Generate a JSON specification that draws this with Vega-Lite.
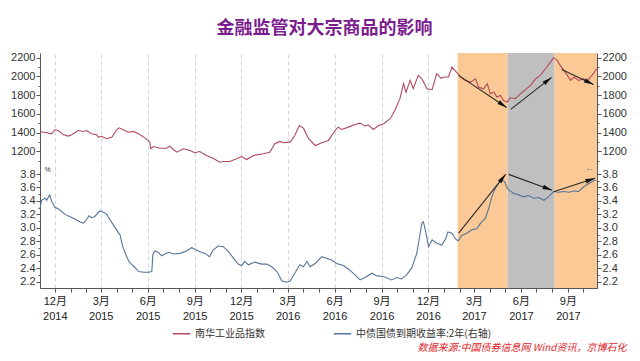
{
  "$schema": "https://vega.github.io/schema/vega-lite/v6.json",
  "padding": {"left": 10, "top": 19, "right": 5, "bottom": 2},
  "background": "white",
  "spacing": 0,
  "bounds": "flush",
  "config": {
    "view": {"stroke": null},
    "font": "Liberation Sans, Noto Sans CJK SC",
    "axis": {"labelFontSize": 11, "labelColor": "#333333", "domainColor": "#555555", "tickColor": "#555555", "gridColor": "#d6d6d6", "gridDash": [4, 3], "titleFontSize": 8, "titleFontWeight": "normal"}
  },
  "title": {"text": "数据来源:中国债券信息网  Wind资讯，京博石化", "orient": "bottom", "anchor": "end", "fontSize": 10, "fontStyle": "italic", "fontWeight": "normal", "color": "#e0262a", "offset": 4, "font": "Noto Sans CJK SC"},
  "resolve": {"scale": {"color": "shared"}, "legend": {"color": "shared"}},
  "datasets": {
    "bands": [
      {"start": "2017-01-28", "end": "2017-05-06", "kind": "orange"},
      {"start": "2017-05-06", "end": "2017-08-06", "kind": "gray"},
      {"start": "2017-08-06", "end": "2017-10-28", "kind": "orange"}
    ],
    "nh": [
      {"date": "2014-11-02", "value": 1412}, {"date": "2014-11-15", "value": 1398}, {"date": "2014-11-25", "value": 1387},
      {"date": "2014-12-01", "value": 1430}, {"date": "2014-12-08", "value": 1422}, {"date": "2014-12-18", "value": 1376},
      {"date": "2014-12-28", "value": 1362}, {"date": "2015-01-03", "value": 1376}, {"date": "2015-01-16", "value": 1422},
      {"date": "2015-01-26", "value": 1412}, {"date": "2015-02-01", "value": 1422}, {"date": "2015-02-11", "value": 1387},
      {"date": "2015-02-21", "value": 1376}, {"date": "2015-02-24", "value": 1351}, {"date": "2015-03-03", "value": 1358},
      {"date": "2015-03-13", "value": 1334}, {"date": "2015-03-23", "value": 1351}, {"date": "2015-04-01", "value": 1430},
      {"date": "2015-04-06", "value": 1451}, {"date": "2015-04-14", "value": 1430}, {"date": "2015-04-24", "value": 1404},
      {"date": "2015-05-04", "value": 1412}, {"date": "2015-05-14", "value": 1387}, {"date": "2015-05-24", "value": 1351},
      {"date": "2015-06-02", "value": 1316}, {"date": "2015-06-05", "value": 1295}, {"date": "2015-06-07", "value": 1227},
      {"date": "2015-06-12", "value": 1251}, {"date": "2015-06-25", "value": 1233}, {"date": "2015-07-08", "value": 1233},
      {"date": "2015-07-14", "value": 1255}, {"date": "2015-07-21", "value": 1219}, {"date": "2015-07-28", "value": 1190},
      {"date": "2015-08-10", "value": 1227}, {"date": "2015-08-23", "value": 1209}, {"date": "2015-09-01", "value": 1184},
      {"date": "2015-09-11", "value": 1198}, {"date": "2015-09-24", "value": 1155}, {"date": "2015-10-07", "value": 1126},
      {"date": "2015-10-20", "value": 1083}, {"date": "2015-10-27", "value": 1091}, {"date": "2015-11-09", "value": 1091},
      {"date": "2015-11-22", "value": 1120}, {"date": "2015-12-02", "value": 1144}, {"date": "2015-12-12", "value": 1112},
      {"date": "2015-12-25", "value": 1155}, {"date": "2016-01-13", "value": 1173}, {"date": "2016-01-26", "value": 1190},
      {"date": "2016-02-05", "value": 1280}, {"date": "2016-02-15", "value": 1305}, {"date": "2016-02-22", "value": 1291},
      {"date": "2016-03-06", "value": 1298}, {"date": "2016-03-15", "value": 1369}, {"date": "2016-03-24", "value": 1476},
      {"date": "2016-04-01", "value": 1447}, {"date": "2016-04-11", "value": 1334}, {"date": "2016-04-24", "value": 1262},
      {"date": "2016-05-07", "value": 1291}, {"date": "2016-05-20", "value": 1316}, {"date": "2016-06-02", "value": 1422},
      {"date": "2016-06-08", "value": 1458}, {"date": "2016-06-15", "value": 1433}, {"date": "2016-06-28", "value": 1458},
      {"date": "2016-07-11", "value": 1487}, {"date": "2016-07-21", "value": 1501}, {"date": "2016-07-31", "value": 1469},
      {"date": "2016-08-06", "value": 1483}, {"date": "2016-08-16", "value": 1433}, {"date": "2016-08-26", "value": 1476},
      {"date": "2016-09-05", "value": 1494}, {"date": "2016-09-18", "value": 1548}, {"date": "2016-09-27", "value": 1636},
      {"date": "2016-10-07", "value": 1762}, {"date": "2016-10-14", "value": 1922}, {"date": "2016-10-19", "value": 1832},
      {"date": "2016-10-27", "value": 1957}, {"date": "2016-11-02", "value": 1868}, {"date": "2016-11-12", "value": 2011},
      {"date": "2016-11-19", "value": 1975}, {"date": "2016-11-29", "value": 1868}, {"date": "2016-12-09", "value": 1858},
      {"date": "2016-12-18", "value": 2029}, {"date": "2016-12-26", "value": 1982}, {"date": "2017-01-03", "value": 1993},
      {"date": "2017-01-10", "value": 1993}, {"date": "2017-01-17", "value": 2100}, {"date": "2017-01-24", "value": 2057},
      {"date": "2017-02-03", "value": 1993}, {"date": "2017-02-12", "value": 1957}, {"date": "2017-02-22", "value": 1939},
      {"date": "2017-03-04", "value": 1975}, {"date": "2017-03-10", "value": 1886}, {"date": "2017-03-20", "value": 1868},
      {"date": "2017-03-27", "value": 1922}, {"date": "2017-04-02", "value": 1815}, {"date": "2017-04-09", "value": 1832},
      {"date": "2017-04-15", "value": 1779}, {"date": "2017-04-22", "value": 1797}, {"date": "2017-04-28", "value": 1743},
      {"date": "2017-05-05", "value": 1725}, {"date": "2017-05-11", "value": 1772}, {"date": "2017-05-21", "value": 1762},
      {"date": "2017-05-31", "value": 1815}, {"date": "2017-06-10", "value": 1858}, {"date": "2017-06-20", "value": 1904},
      {"date": "2017-06-30", "value": 1975}, {"date": "2017-07-09", "value": 2011}, {"date": "2017-07-19", "value": 2082},
      {"date": "2017-07-29", "value": 2153}, {"date": "2017-08-04", "value": 2200}, {"date": "2017-08-11", "value": 2171},
      {"date": "2017-08-17", "value": 2118}, {"date": "2017-08-24", "value": 2064}, {"date": "2017-08-31", "value": 2011},
      {"date": "2017-09-06", "value": 1957}, {"date": "2017-09-13", "value": 1993}, {"date": "2017-09-22", "value": 1957},
      {"date": "2017-10-02", "value": 1975}, {"date": "2017-10-08", "value": 1939}, {"date": "2017-10-15", "value": 1993},
      {"date": "2017-10-21", "value": 2029}, {"date": "2017-10-27", "value": 2082}
    ],
    "bond": [
      {"date": "2014-11-02", "value": 3.29}, {"date": "2014-11-05", "value": 3.41}, {"date": "2014-11-12", "value": 3.44},
      {"date": "2014-11-15", "value": 3.41}, {"date": "2014-11-21", "value": 3.49}, {"date": "2014-11-25", "value": 3.39},
      {"date": "2014-12-01", "value": 3.31}, {"date": "2014-12-11", "value": 3.265}, {"date": "2014-12-21", "value": 3.2},
      {"date": "2014-12-31", "value": 3.165}, {"date": "2015-01-09", "value": 3.13}, {"date": "2015-01-19", "value": 3.09},
      {"date": "2015-01-26", "value": 3.07}, {"date": "2015-02-01", "value": 3.12}, {"date": "2015-02-06", "value": 3.18},
      {"date": "2015-02-11", "value": 3.15}, {"date": "2015-02-17", "value": 3.165}, {"date": "2015-02-27", "value": 3.25},
      {"date": "2015-03-06", "value": 3.23}, {"date": "2015-03-13", "value": 3.2}, {"date": "2015-03-19", "value": 3.12},
      {"date": "2015-03-26", "value": 3.04}, {"date": "2015-04-01", "value": 2.97}, {"date": "2015-04-08", "value": 2.89},
      {"date": "2015-04-13", "value": 2.72}, {"date": "2015-04-17", "value": 2.645}, {"date": "2015-04-21", "value": 2.57},
      {"date": "2015-04-26", "value": 2.49}, {"date": "2015-04-30", "value": 2.46}, {"date": "2015-05-07", "value": 2.41},
      {"date": "2015-05-14", "value": 2.35}, {"date": "2015-05-24", "value": 2.34}, {"date": "2015-06-02", "value": 2.34},
      {"date": "2015-06-09", "value": 2.35}, {"date": "2015-06-11", "value": 2.6}, {"date": "2015-06-15", "value": 2.655},
      {"date": "2015-06-22", "value": 2.635}, {"date": "2015-06-28", "value": 2.585}, {"date": "2015-07-05", "value": 2.61},
      {"date": "2015-07-13", "value": 2.635}, {"date": "2015-07-21", "value": 2.61}, {"date": "2015-08-03", "value": 2.62},
      {"date": "2015-08-16", "value": 2.655}, {"date": "2015-08-26", "value": 2.705}, {"date": "2015-09-01", "value": 2.685},
      {"date": "2015-09-11", "value": 2.645}, {"date": "2015-09-21", "value": 2.62}, {"date": "2015-09-30", "value": 2.57},
      {"date": "2015-10-07", "value": 2.67}, {"date": "2015-10-17", "value": 2.73}, {"date": "2015-10-27", "value": 2.72},
      {"date": "2015-11-06", "value": 2.645}, {"date": "2015-11-16", "value": 2.55}, {"date": "2015-11-25", "value": 2.46},
      {"date": "2015-12-02", "value": 2.44}, {"date": "2015-12-08", "value": 2.5}, {"date": "2015-12-15", "value": 2.45},
      {"date": "2015-12-28", "value": 2.49}, {"date": "2016-01-10", "value": 2.46}, {"date": "2016-01-20", "value": 2.46},
      {"date": "2016-01-30", "value": 2.42}, {"date": "2016-02-09", "value": 2.35}, {"date": "2016-02-19", "value": 2.21},
      {"date": "2016-02-28", "value": 2.19}, {"date": "2016-03-06", "value": 2.21}, {"date": "2016-03-15", "value": 2.325},
      {"date": "2016-03-25", "value": 2.45}, {"date": "2016-04-01", "value": 2.42}, {"date": "2016-04-08", "value": 2.5},
      {"date": "2016-04-14", "value": 2.42}, {"date": "2016-04-24", "value": 2.47}, {"date": "2016-05-07", "value": 2.57},
      {"date": "2016-05-13", "value": 2.555}, {"date": "2016-05-26", "value": 2.52}, {"date": "2016-06-05", "value": 2.47},
      {"date": "2016-06-18", "value": 2.44}, {"date": "2016-07-01", "value": 2.37}, {"date": "2016-07-11", "value": 2.3},
      {"date": "2016-07-21", "value": 2.225}, {"date": "2016-07-31", "value": 2.26}, {"date": "2016-08-13", "value": 2.325},
      {"date": "2016-08-23", "value": 2.285}, {"date": "2016-09-05", "value": 2.275}, {"date": "2016-09-21", "value": 2.225},
      {"date": "2016-10-01", "value": 2.26}, {"date": "2016-10-10", "value": 2.24}, {"date": "2016-10-20", "value": 2.3},
      {"date": "2016-10-30", "value": 2.4}, {"date": "2016-11-09", "value": 2.62}, {"date": "2016-11-14", "value": 2.845},
      {"date": "2016-11-19", "value": 3.07}, {"date": "2016-11-22", "value": 3.09}, {"date": "2016-11-27", "value": 2.92},
      {"date": "2016-12-02", "value": 2.72}, {"date": "2016-12-09", "value": 2.82}, {"date": "2016-12-18", "value": 2.77},
      {"date": "2016-12-28", "value": 2.745}, {"date": "2017-01-05", "value": 2.845}, {"date": "2017-01-09", "value": 2.94},
      {"date": "2017-01-17", "value": 2.92}, {"date": "2017-01-24", "value": 2.835}, {"date": "2017-01-29", "value": 2.805},
      {"date": "2017-02-05", "value": 2.885}, {"date": "2017-02-15", "value": 2.92}, {"date": "2017-02-25", "value": 2.97},
      {"date": "2017-03-07", "value": 2.99}, {"date": "2017-03-14", "value": 3.07}, {"date": "2017-03-23", "value": 3.14},
      {"date": "2017-03-30", "value": 3.29}, {"date": "2017-04-05", "value": 3.46}, {"date": "2017-04-12", "value": 3.59},
      {"date": "2017-04-18", "value": 3.66}, {"date": "2017-04-25", "value": 3.71}, {"date": "2017-04-30", "value": 3.685},
      {"date": "2017-05-05", "value": 3.59}, {"date": "2017-05-11", "value": 3.55}, {"date": "2017-05-18", "value": 3.51},
      {"date": "2017-05-28", "value": 3.49}, {"date": "2017-06-06", "value": 3.46}, {"date": "2017-06-16", "value": 3.48},
      {"date": "2017-06-26", "value": 3.44}, {"date": "2017-07-06", "value": 3.45}, {"date": "2017-07-16", "value": 3.41},
      {"date": "2017-07-25", "value": 3.46}, {"date": "2017-08-04", "value": 3.54}, {"date": "2017-08-14", "value": 3.53},
      {"date": "2017-08-24", "value": 3.54}, {"date": "2017-09-03", "value": 3.53}, {"date": "2017-09-13", "value": 3.55},
      {"date": "2017-09-22", "value": 3.54}, {"date": "2017-10-02", "value": 3.61}, {"date": "2017-10-12", "value": 3.66},
      {"date": "2017-10-21", "value": 3.7}, {"date": "2017-10-26", "value": 3.71}
    ],
    "arrTop": [
      {"d1": "2017-01-30", "v1": 2011, "d2": "2017-05-04", "v2": 1668},
      {"d1": "2017-05-12", "v1": 1647, "d2": "2017-07-31", "v2": 1989},
      {"d1": "2017-08-20", "v1": 2075, "d2": "2017-10-21", "v2": 1914}
    ],
    "arrBot": [
      {"d1": "2017-01-30", "v1": 2.92, "d2": "2017-05-02", "v2": 3.795},
      {"d1": "2017-05-08", "v1": 3.795, "d2": "2017-08-01", "v2": 3.56},
      {"d1": "2017-08-04", "v1": 3.537, "d2": "2017-10-24", "v2": 3.736}
    ]
  },
  "vconcat": [
    {
      "width": 557,
      "height": 117,
      "title": {"text": "金融监管对大宗商品的影响", "fontSize": 18, "fontWeight": "bold", "color": "#7b1d8e", "anchor": "middle", "offset": 14, "dx": 6, "font": "Noto Sans CJK SC"},
      "resolve": {"axis": {"y": "independent", "x": "independent"}},
      "layer": [
        {
          "data": {"name": "bands"},
          "mark": {"type": "rect"},
          "encoding": {
            "x": {"field": "start", "type": "temporal", "scale": {"domain": [{"year": 2014, "month": 11, "date": 2}, {"year": 2017, "month": 10, "date": 28}]},
              "axis": {"orient": "bottom", "title": null, "labels": false, "ticks": false, "domain": false, "grid": true,
                "values": [{"year": 2014, "month": 12, "date": 1}, {"year": 2015, "month": 3, "date": 1}, {"year": 2015, "month": 6, "date": 1}, {"year": 2015, "month": 9, "date": 1}, {"year": 2015, "month": 12, "date": 1}, {"year": 2016, "month": 3, "date": 1}, {"year": 2016, "month": 6, "date": 1}, {"year": 2016, "month": 9, "date": 1}, {"year": 2016, "month": 12, "date": 1}, {"year": 2017, "month": 3, "date": 1}, {"year": 2017, "month": 6, "date": 1}, {"year": 2017, "month": 9, "date": 1}]}},
            "x2": {"field": "end"},
            "fill": {"field": "kind", "type": "nominal", "scale": {"domain": ["orange", "gray"], "range": ["#fbc995", "#bfbfbf"]}, "legend": null}
          }
        },
        {
          "data": {"name": "nh"},
          "mark": {"type": "line", "strokeWidth": 1.1},
          "encoding": {
            "x": {"field": "date", "type": "temporal", "axis": null},
            "y": {"field": "value", "type": "quantitative", "scale": {"domain": [1000, 2250], "nice": false, "zero": false},
              "axis": {"orient": "left", "title": null, "grid": false, "values": [1200, 1400, 1600, 1800, 2000, 2200], "format": "d", "tickSize": 4, "labelPadding": 1}},
            "color": {"datum": "南华工业品指数", "type": "nominal",
              "scale": {"domain": ["南华工业品指数", "中债国债到期收益率:2年(右轴)"], "range": ["#b04a5c", "#55759a"]},
              "legend": {"orient": "none", "legendX": 132, "legendY": 271, "direction": "horizontal", "title": null, "symbolType": "stroke", "symbolStrokeWidth": 1.5, "symbolSize": 300, "labelFontSize": 10, "labelColor": "#333333", "labelFont": "Noto Sans CJK SC", "columnPadding": 65}}
          }
        },
        {
          "data": {"name": "nh"},
          "mark": {"type": "line", "opacity": 0},
          "encoding": {
            "x": {"field": "date", "type": "temporal", "axis": null},
            "y": {"field": "value", "type": "quantitative", "axis": {"orient": "right", "title": null, "grid": false, "values": [1200, 1400, 1600, 1800, 2000, 2200], "format": "d", "tickSize": 4, "labelPadding": 1}}
          }
        },
        {
          "data": {"name": "nh"},
          "mark": {"type": "line", "opacity": 0},
          "encoding": {
            "x": {"field": "date", "type": "temporal", "axis": null},
            "y": {"field": "value", "type": "quantitative", "axis": {"orient": "left", "title": null, "grid": false, "labels": false, "domain": false, "values": [1100, 1300, 1500, 1700, 1900, 2100], "tickSize": 2}}
          }
        },
        {
          "data": {"name": "nh"},
          "mark": {"type": "line", "opacity": 0},
          "encoding": {
            "x": {"field": "date", "type": "temporal", "axis": null},
            "y": {"field": "value", "type": "quantitative", "axis": {"orient": "right", "title": null, "grid": false, "labels": false, "domain": false, "values": [1100, 1300, 1500, 1700, 1900, 2100], "tickSize": 2}}
          }
        },
        {
          "data": {"name": "arrTop"},
          "mark": {"type": "rule", "color": "#2a2a2a", "strokeWidth": 1.1},
          "encoding": {
            "x": {"field": "d1", "type": "temporal", "axis": null},
            "y": {"field": "v1", "type": "quantitative", "axis": null},
            "x2": {"field": "d2"},
            "y2": {"field": "v2"}
          }
        },
        {
          "data": {"name": "arrTop"},
          "transform": [{"calculate": "atan2((toDate(datum.d2) - toDate(datum.d1)) / 86400000 * 0.5105, (datum.v2 - datum.v1) * 0.0936) * 180 / PI", "as": "ang"}],
          "mark": {"type": "point", "shape": "M0,0L0.45,1.9L-0.45,1.9Z", "filled": true, "color": "#111111", "size": 100, "opacity": 1},
          "encoding": {
            "x": {"field": "d2", "type": "temporal", "axis": null},
            "y": {"field": "v2", "type": "quantitative", "axis": null},
            "angle": {"field": "ang", "type": "quantitative", "scale": null}
          }
        }
      ]
    },
    {
      "width": 557,
      "height": 118,
      "resolve": {"axis": {"y": "independent", "x": "independent"}},
      "layer": [
        {
          "data": {"name": "bands"},
          "mark": {"type": "rect"},
          "encoding": {
            "x": {"field": "start", "type": "temporal", "scale": {"domain": [{"year": 2014, "month": 11, "date": 2}, {"year": 2017, "month": 10, "date": 28}]},
              "axis": {"orient": "bottom", "title": null, "ticks": false, "domain": false, "grid": true, "labelPadding": 7, "labelLineHeight": 15, "labelColor": "#222222",
                "labelExpr": "[timeFormat(datum.value, '%-m') + '月', timeFormat(datum.value, '%Y')]",
                "values": [{"year": 2014, "month": 12, "date": 1}, {"year": 2015, "month": 3, "date": 1}, {"year": 2015, "month": 6, "date": 1}, {"year": 2015, "month": 9, "date": 1}, {"year": 2015, "month": 12, "date": 1}, {"year": 2016, "month": 3, "date": 1}, {"year": 2016, "month": 6, "date": 1}, {"year": 2016, "month": 9, "date": 1}, {"year": 2016, "month": 12, "date": 1}, {"year": 2017, "month": 3, "date": 1}, {"year": 2017, "month": 6, "date": 1}, {"year": 2017, "month": 9, "date": 1}]}},
            "x2": {"field": "end"},
            "fill": {"field": "kind", "type": "nominal", "scale": {"domain": ["orange", "gray"], "range": ["#fbc995", "#bfbfbf"]}, "legend": null}
          }
        },
        {
          "data": {"name": "bond"},
          "mark": {"type": "line", "strokeWidth": 1.1},
          "encoding": {
            "x": {"field": "date", "type": "temporal", "axis": {"orient": "bottom", "title": null, "labels": false, "grid": false, "tickCount": {"interval": "month", "step": 1}, "tickSize": 4}},
            "y": {"field": "value", "type": "quantitative", "scale": {"domain": [2.105, 3.86], "nice": false, "zero": false},
              "axis": {"orient": "left", "title": "%", "titleAngle": 0, "titleX": 7, "titleY": 2, "titleFontSize": 7, "titleColor": "#333333", "grid": false, "values": [2.2, 2.4, 2.6, 2.8, 3.0, 3.2, 3.4, 3.6, 3.8], "format": ".1f", "tickSize": 4, "labelPadding": 1}},
            "color": {"datum": "中债国债到期收益率:2年(右轴)", "type": "nominal",
              "scale": {"domain": ["南华工业品指数", "中债国债到期收益率:2年(右轴)"], "range": ["#b04a5c", "#55759a"]}}
          }
        },
        {
          "data": {"name": "bond"},
          "mark": {"type": "line", "opacity": 0},
          "encoding": {
            "x": {"field": "date", "type": "temporal", "axis": null},
            "y": {"field": "value", "type": "quantitative", "axis": {"orient": "right", "title": "%", "titleAngle": 0, "titleX": -8, "titleY": 4, "titleFontSize": 7, "titleColor": "#333333", "grid": false, "values": [2.2, 2.4, 2.6, 2.8, 3.0, 3.2, 3.4, 3.6, 3.8], "format": ".1f", "tickSize": 4, "labelPadding": 1}}
          }
        },
        {
          "data": {"name": "bond"},
          "mark": {"type": "line", "opacity": 0},
          "encoding": {
            "x": {"field": "date", "type": "temporal", "axis": null},
            "y": {"field": "value", "type": "quantitative", "axis": {"orient": "left", "title": null, "grid": false, "labels": false, "domain": false, "values": [2.3, 2.5, 2.7, 2.9, 3.1, 3.3, 3.5, 3.7], "tickSize": 2}}
          }
        },
        {
          "data": {"name": "bond"},
          "mark": {"type": "line", "opacity": 0},
          "encoding": {
            "x": {"field": "date", "type": "temporal", "axis": null},
            "y": {"field": "value", "type": "quantitative", "axis": {"orient": "right", "title": null, "grid": false, "labels": false, "domain": false, "values": [2.3, 2.5, 2.7, 2.9, 3.1, 3.3, 3.5, 3.7], "tickSize": 2}}
          }
        },
        {
          "data": {"name": "arrBot"},
          "mark": {"type": "rule", "color": "#2a2a2a", "strokeWidth": 1.1},
          "encoding": {
            "x": {"field": "d1", "type": "temporal", "axis": null},
            "y": {"field": "v1", "type": "quantitative", "axis": null},
            "x2": {"field": "d2"},
            "y2": {"field": "v2"}
          }
        },
        {
          "data": {"name": "arrBot"},
          "transform": [{"calculate": "atan2((toDate(datum.d2) - toDate(datum.d1)) / 86400000 * 0.5105, (datum.v2 - datum.v1) * 67.24) * 180 / PI", "as": "ang"}],
          "mark": {"type": "point", "shape": "M0,0L0.45,1.9L-0.45,1.9Z", "filled": true, "color": "#111111", "size": 100, "opacity": 1},
          "encoding": {
            "x": {"field": "d2", "type": "temporal", "axis": null},
            "y": {"field": "v2", "type": "quantitative", "axis": null},
            "angle": {"field": "ang", "type": "quantitative", "scale": null}
          }
        }
      ]
    }
  ]
}
